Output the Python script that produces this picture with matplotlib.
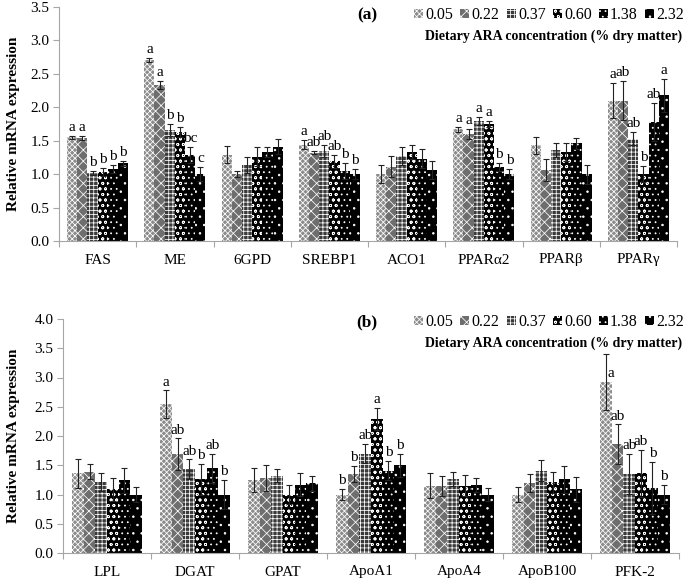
import numpy as np
import matplotlib
matplotlib.use('Agg')
import matplotlib.pyplot as plt
from matplotlib.ticker import FormatStrFormatter, MultipleLocator, FixedLocator

plt.rcParams['font.family'] = ['Liberation Serif', 'DejaVu Serif']
plt.rcParams['hatch.linewidth'] = 0.55

# dietary ARA levels (% dry matter)
levels = ['0.05', '0.22', '0.37', '0.60', '1.38', '2.32']

# panel (a)
genes_a = ['FAS', 'ME', '6GPD', 'SREBP1', 'ACO1', 'PPARα2', 'PPARβ', 'PPARγ']
mean_a = [
    [1.55, 1.54, 1.01, 1.03, 1.08, 1.16],
    [2.71, 2.33, 1.66, 1.63, 1.29, 1.00],
    [1.29, 1.00, 1.13, 1.26, 1.33, 1.41],
    [1.44, 1.32, 1.34, 1.19, 1.04, 1.00],
    [1.00, 1.11, 1.27, 1.33, 1.23, 1.06],
    [1.67, 1.60, 1.80, 1.75, 1.11, 1.00],
    [1.43, 1.06, 1.36, 1.33, 1.46, 1.00],
    [2.10, 2.10, 1.53, 1.00, 1.78, 2.18],
]
err_a = [
    [0.02, 0.03, 0.03, 0.06, 0.06, 0.04],
    [0.03, 0.06, 0.09, 0.08, 0.12, 0.11],
    [0.13, 0.05, 0.12, 0.14, 0.08, 0.11],
    [0.07, 0.02, 0.09, 0.10, 0.12, 0.07],
    [0.13, 0.16, 0.14, 0.11, 0.14, 0.13],
    [0.04, 0.07, 0.06, 0.05, 0.06, 0.08],
    [0.13, 0.16, 0.10, 0.14, 0.08, 0.14],
    [0.26, 0.29, 0.10, 0.12, 0.28, 0.25],
]
letters_a = [
    ['a', 'a', 'b', 'b', 'b', 'b'],
    ['a', 'a', 'b', 'b', 'bc', 'c'],
    [''] * 6,
    ['a', 'ab', 'ab', 'ab', 'b', 'b'],
    [''] * 6,
    ['a', 'a', 'a', 'a', 'b', 'b'],
    [''] * 6,
    ['a', 'ab', 'ab', 'b', 'ab', 'a'],
]

# panel (b)
genes_b = ['LPL', 'DGAT', 'GPAT', 'ApoA1', 'ApoA4', 'ApoB100', 'PFK-2']
mean_b = [
    [1.36, 1.39, 1.21, 1.09, 1.24, 1.00],
    [2.54, 1.69, 1.43, 1.26, 1.45, 1.00],
    [1.25, 1.28, 1.32, 1.00, 1.17, 1.19],
    [1.00, 1.35, 1.70, 2.29, 1.41, 1.50],
    [1.15, 1.15, 1.26, 1.15, 1.16, 1.00],
    [1.00, 1.20, 1.41, 1.21, 1.26, 1.09],
    [2.93, 1.86, 1.35, 1.36, 1.11, 1.00],
]
err_b = [
    [0.25, 0.13, 0.15, 0.20, 0.21, 0.12],
    [0.24, 0.27, 0.17, 0.26, 0.25, 0.25],
    [0.21, 0.22, 0.11, 0.17, 0.19, 0.13],
    [0.09, 0.14, 0.17, 0.19, 0.17, 0.20],
    [0.21, 0.17, 0.12, 0.18, 0.12, 0.11],
    [0.12, 0.15, 0.18, 0.18, 0.23, 0.21],
    [0.48, 0.34, 0.34, 0.40, 0.45, 0.17],
]
letters_b = [
    [''] * 6,
    ['a', 'ab', 'ab', 'b', 'ab', 'b'],
    [''] * 6,
    ['b', 'b', 'ab', 'a', 'b', 'b'],
    [''] * 6,
    [''] * 6,
    ['a', 'ab', 'ab', 'ab', 'b', 'b'],
]

faces = ['#8c8c8c', '#6e6e6e', '#3a3a3a', '#000000', '#000000', '#000000']
hatches = ['xxxxxx', 'xxx', '++++', 'ooo', '...', '..']
axis_grey = '#a6a6a6'

# letters that sit beside the error bar instead of above it (panel, gene, level)
beside = {('b', 6, 0)}


def draw_panel(ax, tag, genes, means, errs, letters, ymax, step):
    n = len(genes)
    means = np.array(means)
    errs = np.array(errs)
    w = 0.132
    x0 = np.arange(n) + 0.5
    handles = []
    for j in range(6):
        xs = x0 + (j - 2.5) * w
        b = ax.bar(xs, means[:, j], width=w, color=faces[j], edgecolor='white',
                   linewidth=0, hatch=hatches[j], zorder=2)
        ax.errorbar(xs, means[:, j], yerr=errs[:, j], fmt='none', ecolor='#222222',
                    elinewidth=0.8, capsize=2.5, capthick=0.8, zorder=3)
        handles.append(b)
        for i in range(n):
            if not letters[i][j]:
                continue
            if (tag, i, j) in beside:
                ax.text(xs[i] + 0.02, means[i, j] + 0.02, letters[i][j],
                        ha='left', va='bottom', fontsize=11)
            else:
                ax.text(xs[i], means[i, j] + errs[i, j] + 0.03, letters[i][j],
                        ha='center', va='bottom', fontsize=11)
    ax.set_xlim(0, n)
    ax.set_ylim(0, ymax)
    ax.xaxis.set_major_locator(FixedLocator(x0))
    ax.xaxis.set_minor_locator(FixedLocator(np.arange(n + 1)))
    ax.set_xticklabels(genes, fontsize=11)
    ax.tick_params(axis='x', which='major', length=0, pad=9)
    ax.tick_params(axis='x', which='minor', length=4, color=axis_grey, width=0.8)
    ax.yaxis.set_major_locator(MultipleLocator(step))
    ax.yaxis.set_major_formatter(FormatStrFormatter('%.1f'))
    ax.tick_params(axis='y', length=4, color=axis_grey, width=0.8, labelsize=11, pad=3)
    for s in ['top', 'right']:
        ax.spines[s].set_visible(False)
    for s in ['left', 'bottom']:
        ax.spines[s].set_color(axis_grey)
        ax.spines[s].set_linewidth(0.8)
    ax.set_ylabel('Relative mRNA expression', fontsize=11, fontweight='bold')
    return handles


fig = plt.figure(figsize=(6.85, 5.83), dpi=100)
W, H = 685, 583

ax_a = fig.add_axes([59 / W, 1 - 241 / H, (677 - 59) / W, (241 - 7) / H])
ax_b = fig.add_axes([63 / W, 1 - 553 / H, (679 - 63) / W, (553 - 319) / H])

h_a = draw_panel(ax_a, 'a', genes_a, mean_a, err_a, letters_a, 3.5, 0.5)
h_b = draw_panel(ax_b, 'b', genes_b, mean_b, err_b, letters_b, 4.0, 0.5)

for ax, h, ytop, tag in [(ax_a, h_a, 15, '(a)'), (ax_b, h_b, 322, '(b)')]:
    fig.legend(h, levels, loc='center right', bbox_to_anchor=(684 / W, 1 - ytop / H),
               ncol=6, frameon=False, fontsize=11.5, handlelength=0.55, handleheight=0.55,
               handletextpad=0.15, columnspacing=0.45, borderpad=0, borderaxespad=0)
    fig.text(367 / W, 1 - ytop / H, tag, ha='center', va='center',
             fontsize=12.5, fontweight='bold')
    fig.text(682 / W, 1 - (ytop + 21) / H, 'Dietary ARA concentration (% dry matter)',
             ha='right', va='center', fontsize=10, fontweight='bold')

ax_a.yaxis.set_label_coords(-0.063, 0.5)
ax_b.yaxis.set_label_coords(-0.07, 0.5)

fig.savefig('out.png', dpi=100)
